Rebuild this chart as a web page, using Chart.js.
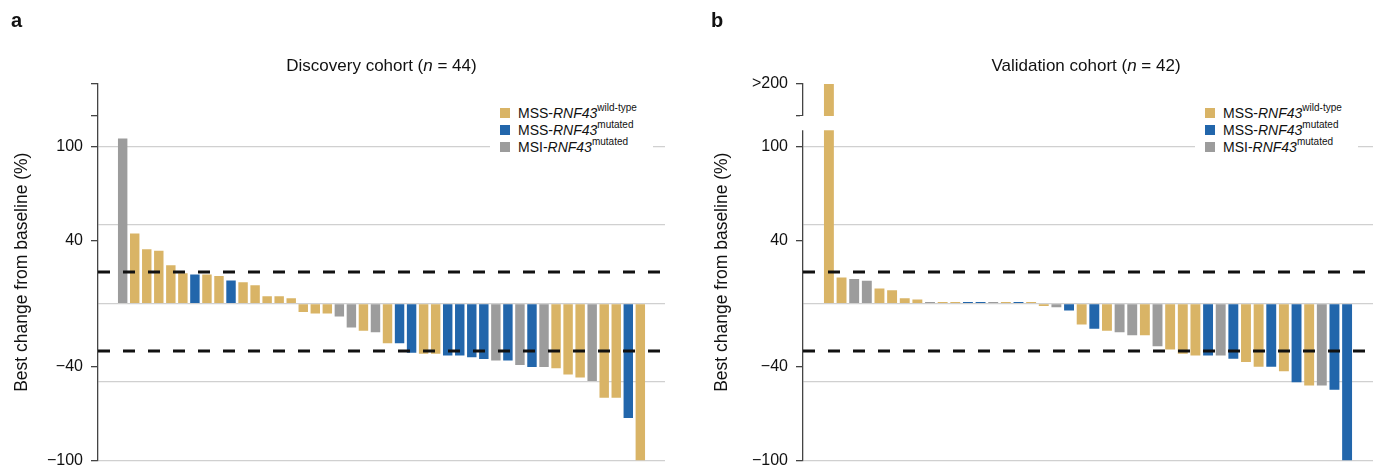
<!DOCTYPE html>
<html>
<head>
<meta charset="utf-8">
<script src="https://cdn.jsdelivr.net/npm/chart.js@4.4.1/dist/chart.umd.min.js"></script>
<style>
  html, body { margin: 0; padding: 0; background: #fff; }
  #page { position: relative; width: 1373px; height: 469px; overflow: hidden;
          font-family: "Liberation Sans", Arial, Helvetica, sans-serif; color: #111; }
  canvas { position: absolute; top: 0; }
  .letter { position: absolute; top: 8px; font-family: "Liberation Sans Narrow", "Liberation Sans", sans-serif;
            font-weight: bold; font-size: 20px; line-height: 24px; }
  .title { position: absolute; top: 56px; font-size: 17px; line-height: 20px; white-space: nowrap;
           transform: translateX(-50%); }
  .legend { position: absolute; top: 100px; height: 56px; background: #fff; }
  .row { position: absolute; left: 0; height: 17px; font-size: 14px; line-height: 17px; white-space: nowrap; }
  .sw { position: absolute; left: 0; top: 3.5px; width: 10px; height: 10px; }
  .txt { position: absolute; left: 18px; top: 0; }
  .txt sup { font-size: 10px; line-height: 0; position: relative; top: -1px; }
</style>
</head>
<body>
<div id="page">
  <canvas id="chartA" width="665" height="478" style="left:0px;width:665px;height:478px"></canvas>
  <canvas id="chartB" width="668" height="478" style="left:705px;width:668px;height:478px"></canvas>

  <div class="letter" style="left:11px">a</div>
  <div class="letter" style="left:711px">b</div>

  <div class="title" style="left:381.5px">Discovery cohort (<i>n</i> = 44)</div>
  <div class="title" style="left:1086px">Validation cohort (<i>n</i> = 42)</div>

  <div class="legend" id="legendA" style="left:490px;width:163px"></div>
  <div class="legend" id="legendB" style="left:1195px;width:163px"></div>
</div>

<script>
// Group colours
const GROUP_COLORS = { WT: '#D9B466', MUT: '#2266AB', MSI: '#9C9C9C' };

// Legend entries: prefix, italic gene, superscript status
const legendGroups = ['WT', 'MUT', 'MSI'];
const legendPrefixes = ['MSS-', 'MSS-', 'MSI-'];
const legendGene = 'RNF43';
const legendStatus = ['wild-type', 'mutated', 'mutated'];

// Discovery cohort: best change from baseline (%), waterfall order
const discoveryValues = [105.3, 44.7, 34.7, 33.6, 24.4, 19.4, 18.5, 18.5, 17.5, 14.7,
  13.6, 11.7, 4.7, 4.7, 3.4, -5.3, -6.4, -6.4, -8.3, -15.3,
  -17.4, -18.3, -25.3, -25.3, -31.4, -32, -32, -33.1, -33.1, -34.2,
  -35.3, -36.3, -36.3, -39.1, -40.4, -40.4, -41.2, -45.2, -47.1, -49.3,
  -60.1, -60.1, -73, -100];
const discoveryGroups = ['MSI', 'WT', 'WT', 'WT', 'WT', 'WT', 'MUT', 'WT', 'WT', 'MUT',
  'WT', 'WT', 'WT', 'WT', 'WT', 'WT', 'WT', 'WT', 'MSI', 'MSI',
  'WT', 'MSI', 'WT', 'MUT', 'MUT', 'WT', 'WT', 'MUT', 'MUT', 'MUT',
  'MUT', 'MSI', 'MUT', 'MSI', 'MUT', 'MSI', 'WT', 'WT', 'WT', 'MSI',
  'WT', 'WT', 'MUT', 'WT'];

// Validation cohort: first patient exceeds 200%
const validationValues = [210, 16.6, 15.6, 14.6, 9.6, 8.5, 3.4, 2.6, 1, 1,
  1, 1, 1, 1, 1, 1, 1, -1.5, -2.3, -4.5,
  -13.4, -16.1, -17.4, -18.3, -20.2, -20.2, -27.2, -29.3, -32, -33.1,
  -33.1, -33.1, -35.2, -37.2, -40.3, -40.3, -43.1, -50.1, -52.2, -52.2,
  -55, -100];
const validationGroups = ['WT', 'WT', 'MSI', 'MSI', 'WT', 'WT', 'WT', 'WT', 'MSI', 'WT',
  'WT', 'MUT', 'MUT', 'MSI', 'WT', 'MUT', 'WT', 'WT', 'MSI', 'MUT',
  'WT', 'MUT', 'WT', 'MSI', 'MSI', 'WT', 'MSI', 'WT', 'WT', 'WT',
  'MUT', 'MSI', 'MUT', 'WT', 'WT', 'MUT', 'WT', 'MUT', 'WT', 'MSI',
  'MUT', 'MUT'];

// Y axis ticks
const yMin = -100, yMax = 140;
const yTickValues = [-100, -50, -40, 0, 40, 50, 100, 120, 140];
const gridValues = [-100, -50, 0, 50, 100];
const markedTicks = [-100, -40, 40, 100, 120, 140];
const discoveryTickLabels = { '100': '100', '40': '40', '-40': '\u221240', '-100': '\u2212100' };
const validationTickLabels = { '140': '>200', '100': '100', '40': '40', '-40': '\u221240', '-100': '\u2212100' };

// Response thresholds (dashed)
const thresholds = [20, -30];

// Axis break on the validation panel
const validationBreak = [110.5, 119.6];

const overlayPlugin = {
  id: 'overlay',
  afterDatasetsDraw(chart, args, opts) {
    const { ctx, chartArea, scales: { y } } = chart;
    ctx.save();
    if (opts.axisBreak) {
      const top = y.getPixelForValue(opts.axisBreak[1]);
      const bot = y.getPixelForValue(opts.axisBreak[0]);
      ctx.fillStyle = '#ffffff';
      ctx.fillRect(chartArea.left - 3, top, chartArea.right - chartArea.left + 3, bot - top);
    }
    ctx.strokeStyle = '#111';
    ctx.lineWidth = 2.8;
    ctx.setLineDash([12, 13]);
    thresholds.forEach(v => {
      const py = Math.round(y.getPixelForValue(v));
      ctx.beginPath();
      ctx.moveTo(chartArea.left, py);
      ctx.lineTo(chartArea.right - 4, py);
      ctx.stroke();
    });
    ctx.restore();
  }
};

function makeChart(id, values, groups, tickLabels, axisBreak, titlePad) {
  const n = values.length;
  const pad = 2.05;
  return new Chart(document.getElementById(id), {
    type: 'bar',
    data: {
      datasets: [{
        data: values.map((v, i) => ({ x: i + 1, y: v })),
        backgroundColor: groups.map(g => GROUP_COLORS[g]),
        borderWidth: 0,
        categoryPercentage: 0.8,
        barPercentage: 0.98
      }]
    },
    options: {
      responsive: false,
      devicePixelRatio: 1,
      animation: false,
      layout: { padding: { top: 84, bottom: 0, left: 0, right: 0 } },
      plugins: {
        legend: { display: false },
        title: { display: false },
        tooltip: { enabled: false },
        overlay: { axisBreak: axisBreak }
      },
      scales: {
        x: {
          type: 'linear',
          display: false,
          offset: false,
          grid: { offset: false },
          min: 1 - pad,
          max: n + pad
        },
        y: {
          min: yMin,
          max: yMax,
          afterBuildTicks: s => { s.ticks = yTickValues.map(v => ({ value: v })); },
          afterFit: s => { s.width = 98; },
          ticks: {
            autoSkip: false,
            padding: 8,
            color: '#111',
            font: { family: '"Liberation Sans", Arial, sans-serif', size: 16 },
            callback: v => (tickLabels[String(v)] !== undefined ? tickLabels[String(v)] : '')
          },
          grid: {
            color: c => (gridValues.includes(c.tick.value) ? '#d0d0d0' : 'rgba(0,0,0,0)'),
            lineWidth: 1.3,
            tickLength: 7,
            tickWidth: 1.3,
            tickColor: c => (markedTicks.includes(c.tick.value) ? '#444' : 'rgba(0,0,0,0)')
          },
          border: { display: true, color: '#444', width: 1.3 },
          title: {
            display: true,
            text: 'Best change from baseline (%)',
            color: '#111',
            font: { family: '"Liberation Sans", Arial, sans-serif', size: 17.5 },
            padding: { top: titlePad, bottom: 0 }
          }
        }
      }
    },
    plugins: [overlayPlugin]
  });
}

makeChart('chartA', discoveryValues, discoveryGroups, discoveryTickLabels, null, 12);
makeChart('chartB', validationValues, validationGroups, validationTickLabels, validationBreak, 7);

function buildLegend(id) {
  const box = document.getElementById(id);
  legendGroups.forEach((g, i) => {
    const row = document.createElement('div');
    row.className = 'row';
    row.style.top = (4.5 + i * 17) + 'px';
    row.style.left = '10px';
    const sw = document.createElement('span');
    sw.className = 'sw';
    sw.style.background = GROUP_COLORS[g];
    const txt = document.createElement('span');
    txt.className = 'txt';
    txt.innerHTML = legendPrefixes[i] + '<i>' + legendGene + '</i><sup>' + legendStatus[i] + '</sup>';
    row.appendChild(sw);
    row.appendChild(txt);
    box.appendChild(row);
  });
}
buildLegend('legendA');
buildLegend('legendB');
</script>
</body>
</html>
